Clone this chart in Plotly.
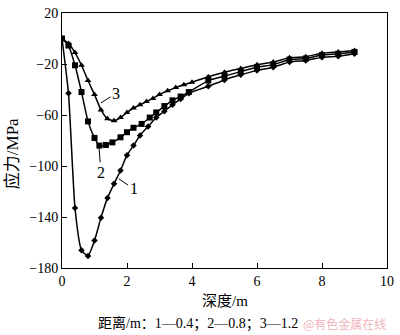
import plotly.graph_objects as go

# Curve 1: distance 0.4 m (diamonds)
x1 = [0, 0.2, 0.4, 0.6, 0.8, 1.0, 1.2, 1.4, 1.6, 1.8, 2.0, 2.2, 2.4, 2.65, 2.9, 3.15, 3.4, 3.65, 3.9,
      4.5, 5.0, 5.5, 6.0, 6.5, 7.0, 7.5, 8.0, 8.5, 9.0]
y1 = [0, -43, -133, -166, -170.5, -158.5, -140.5, -125, -114, -103.5, -91.5, -84, -76, -69, -62, -57, -52, -47.5, -43,
      -37.5, -32.5, -28.5, -25, -22.5, -18.5, -17.2, -14.8, -14, -12]

# Curve 2: distance 0.8 m (squares)
x2 = [0, 0.2, 0.4, 0.6, 0.8, 1.0, 1.15, 1.35, 1.55, 1.8, 2.0, 2.2, 2.45, 2.7, 2.9, 3.15, 3.4, 3.65, 3.9,
      4.5, 5.0, 5.5, 6.0, 6.5, 7.0, 7.5, 8.0, 8.5, 9.0]
y2 = [0, -5.5, -21, -42, -65, -78, -84, -83.5, -81.5, -77.5, -73.5, -70, -67, -62, -58, -53, -48.5, -45.5, -42,
      -33, -29.5, -26, -22.5, -20.5, -16.5, -15.7, -13, -12, -10.5]

# Curve 3: distance 1.2 m (triangles)
x3 = [0, 0.2, 0.4, 0.6, 0.8, 1.0, 1.2, 1.4, 1.6, 1.8, 2.0, 2.2, 2.4, 2.6, 2.8, 3.0, 3.25, 3.5, 3.75, 4.0,
      4.5, 5.0, 5.5, 6.0, 6.5, 7.0, 7.5, 8.0, 8.5, 9.0]
y3 = [0, -4, -11, -21, -33, -44, -56, -63, -64.5, -62, -58, -54.5, -52, -49.5, -47, -44, -41, -38.5, -36.3, -34.3,
      -30, -26.5, -23.5, -20.5, -18.5, -15, -14.3, -11.5, -10.5, -9.5]

x_ticks = [0, 2, 4, 6, 8, 10]
y_ticks = [20, -20, -60, -100, -140, -180]

serif = "Liberation Serif, Times New Roman, Noto Sans CJK SC, serif"
cjk = "Liberation Serif, Noto Sans CJK SC, serif"

fig = go.Figure()
line_style = dict(color="black", width=1.5, shape="spline", smoothing=0.5)
fig.add_trace(go.Scatter(x=x1, y=y1, mode="lines+markers", line=line_style,
                         marker=dict(symbol="diamond", size=5, color="black")))
fig.add_trace(go.Scatter(x=x2, y=y2, mode="lines+markers", line=line_style,
                         marker=dict(symbol="square", size=6, color="black")))
fig.add_trace(go.Scatter(x=x3, y=y3, mode="lines+markers", line=line_style,
                         marker=dict(symbol="triangle-up", size=6, color="black")))

labels = [
    dict(text="1", x=1.75, y=-110, ax=2.2, ay=-118),
    dict(text="2", x=1.14, y=-86, ax=1.2, ay=-105),
    dict(text="3", x=1.2, y=-50.5, ax=1.66, ay=-43),
]
ann = []
for lb in labels:
    ann.append(dict(text=lb["text"], x=lb["x"], y=lb["y"], xref="x", yref="y",
                    ax=lb["ax"], ay=lb["ay"], axref="x", ayref="y",
                    showarrow=True, arrowhead=0, arrowwidth=1, arrowcolor="black",
                    standoff=0, startstandoff=0,
                    font=dict(family=serif, size=16, color="black")))

ann.append(dict(text="应力/MPa", x=-0.154, y=0.45, xref="paper", yref="paper",
                xanchor="center", yanchor="middle",
                textangle=-90, showarrow=False, font=dict(family=cjk, size=17, color="black")))
ann.append(dict(text="深度/m", x=0.5, y=-0.13, xref="paper", yref="paper",
                xanchor="center", yanchor="middle",
                showarrow=False, font=dict(family=cjk, size=15, color="black")))
ann.append(dict(text="距离/m：1—0.4；2—0.8；3—1.2", x=0.419, y=-0.2176, xref="paper", yref="paper",
                xanchor="center", yanchor="middle",
                showarrow=False, font=dict(family=cjk, size=14, color="black")))
ann.append(dict(text="@有色金属在线", x=0.87, y=-0.2176, xref="paper", yref="paper",
                xanchor="center", yanchor="middle",
                showarrow=False, font=dict(family="Noto Sans CJK SC", size=12, color="#f0b4bc")))

fig.update_layout(
    width=400, height=335,
    margin=dict(l=62, r=6, t=6, b=67),
    paper_bgcolor="white", plot_bgcolor="white",
    showlegend=False,
    annotations=ann,
    font=dict(family=serif, size=14, color="black"),
)
fig.update_xaxes(range=[0, 10], tickvals=x_ticks, ticks="inside", ticklen=5, tickcolor="black",
                 showline=True, linecolor="black", linewidth=1, mirror=True, showgrid=False, zeroline=False,
                 ticklabeloverflow="allow",
                 tickfont=dict(family=serif, size=14, color="black"))
fig.update_yaxes(range=[-180, 20], tickvals=y_ticks, ticks="inside", ticklen=5, tickcolor="black",
                 showline=True, linecolor="black", linewidth=1, mirror=True, showgrid=False, zeroline=False,
                 ticklabeloverflow="allow",
                 tickfont=dict(family=serif, size=14, color="black"))

fig.write_html("out.html")
